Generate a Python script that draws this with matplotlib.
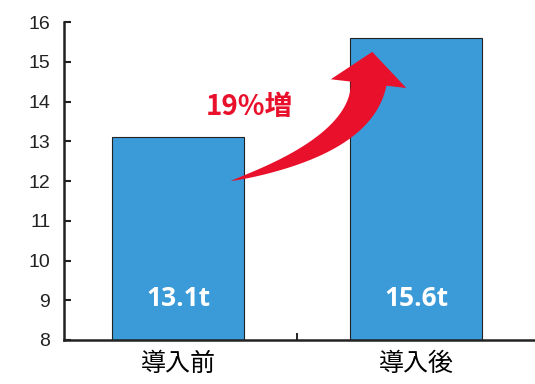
import numpy as np
import matplotlib.pyplot as plt
from matplotlib.patches import Polygon

categories = ["導入前", "導入後"]
values = [13.1, 15.6]
bar_labels = ["13.1t", "15.6t"]
yticks = list(range(8, 17))
increase_label = "19%増"

plt.rcParams['font.family'] = ['Noto Sans CJK JP', 'DejaVu Sans']

fig = plt.figure(figsize=(5.35, 3.84), dpi=100)
ax = fig.add_axes([0.12, 0.1146, 0.88, 0.828])

x = range(len(categories))
ax.bar(x, values, width=0.555, color="#3a9bd8", edgecolor="#222222",
       linewidth=0.8, zorder=2)

for i, lab in enumerate(bar_labels):
    ax.text(i, 9.05, lab, color="white", fontsize=19, fontweight="bold",
            ha="center", va="center", family=["Open Sans", "DejaVu Sans"], zorder=3)

ax.set_xlim(-0.48, 1.5)
ax.set_ylim(8, 16)
ax.set_yticks(yticks)
ax.set_yticklabels([str(t) for t in yticks], fontsize=14,
                   family=["Liberation Sans Narrow", "Liberation Sans", "DejaVu Sans"])
ax.tick_params(axis="y", direction="in", length=5, width=1.5, pad=10, colors="#222222")
ax.set_xticks(list(x))
ax.set_xticklabels(categories, fontsize=18)
ax.tick_params(axis="x", length=0, pad=8)
ax.set_xticks([0.5], minor=True)
ax.tick_params(axis="x", which="minor", direction="in", length=5, width=1.2)

for s in ["top", "right"]:
    ax.spines[s].set_visible(False)
for s in ["left", "bottom"]:
    ax.spines[s].set_linewidth(1.8)
    ax.spines[s].set_color("#222222")

# tapered curved arrow from the first bar up to the second (built in pixel space)
tail, ctrl, base = [(0.22, 12.0), (0.77, 12.9), (0.80, 14.45)]
p0, p1, p2 = ax.transData.transform([tail, ctrl, base])
t = np.linspace(0, 1, 60)[:, None]
pts = (1 - t) ** 2 * p0 + 2 * (1 - t) * t * p1 + t ** 2 * p2
tan = 2 * (1 - t) * (p1 - p0) + 2 * t * (p2 - p1)
tan = tan / np.linalg.norm(tan, axis=1, keepdims=True)
nrm = np.column_stack([-tan[:, 1], tan[:, 0]])
half = 18 * t[:, 0] ** 0.8
left = pts + nrm * half[:, None]
right = pts - nrm * half[:, None]
d, n = tan[-1], nrm[-1]
tip = p2 + d * 32
head = [p2 + n * 38, tip, p2 - n * 38]
outline = np.vstack([left, head, right[::-1]])
ax.add_patch(Polygon(ax.transData.inverted().transform(outline), closed=True,
                     facecolor="#e8102a", edgecolor="none", zorder=4))

ax.text(0.30, 13.86, increase_label, color="#e8102a", fontsize=20,
        fontweight="bold", ha="center", va="center", zorder=5)

fig.savefig("out.png", dpi=100)
